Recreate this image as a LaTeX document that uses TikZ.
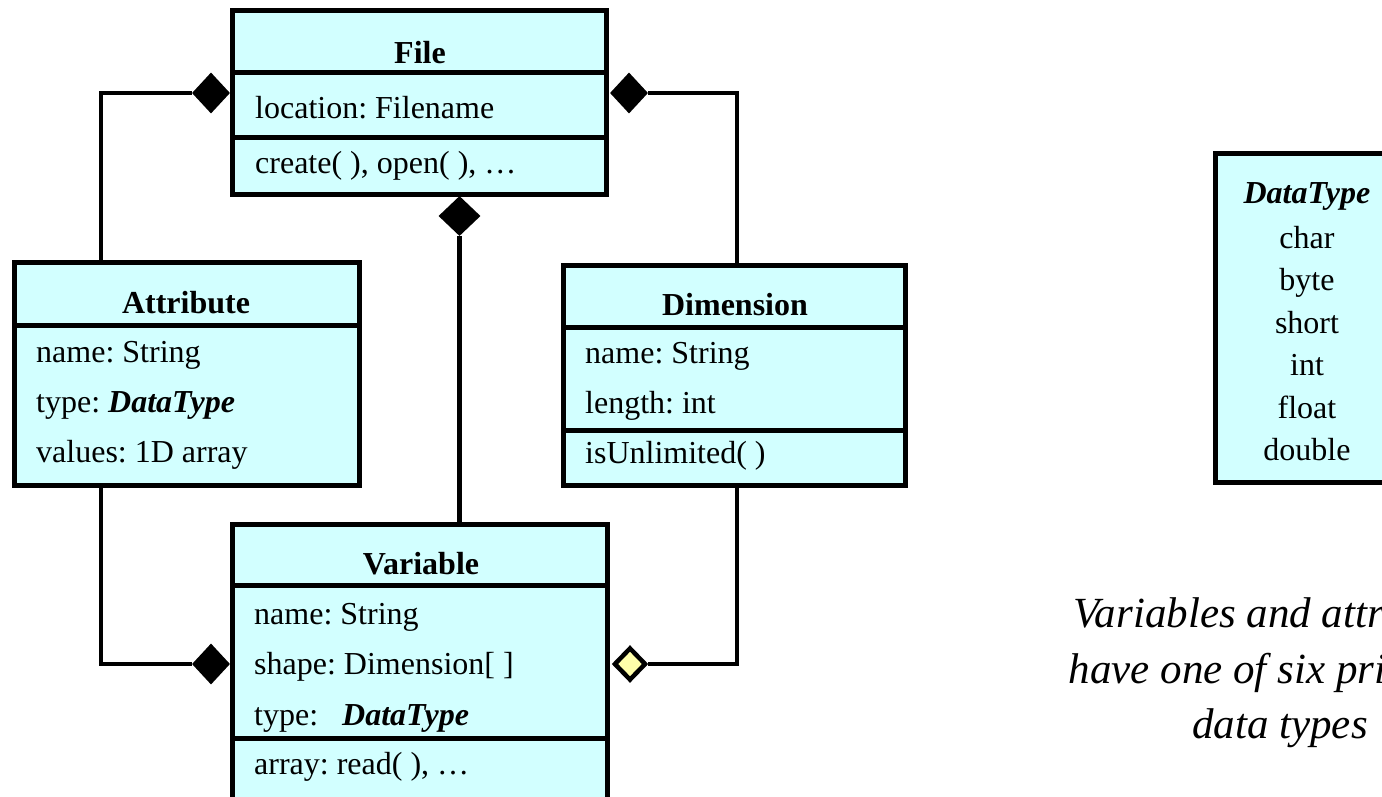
\documentclass[tikz,border=0pt]{standalone}
\usepackage{fontspec}
\setmainfont{Liberation Serif}
\frenchspacing
\usetikzlibrary{shapes.geometric,calc}
\definecolor{clsfill}{RGB}{210,255,255}
\definecolor{aggfill}{RGB}{255,255,170}
\tikzset{
  clsbox/.style={draw=black, fill=clsfill, line width=5pt, inner sep=0pt, rectangle},
  divider/.style={draw=black, line width=5pt},
  conn/.style={draw=black, line width=4.6pt},
  txt/.style={font=\fontsize{32}{38}\selectfont, inner sep=0pt, anchor=base west},
  ttl/.style={font=\fontsize{32}{38}\selectfont\bfseries, inner sep=0pt, anchor=base},
  ctr/.style={font=\fontsize{32}{38}\selectfont, inner sep=0pt, anchor=base},
  captxt/.style={font=\fontsize{43}{56}\selectfont\itshape, inner sep=0pt, anchor=base},
  comp/.style={diamond, fill=black, draw=none, inner sep=0pt, minimum width=38pt, minimum height=41pt},
  aggr/.style={diamond, fill=aggfill, draw=black, line width=4.5pt, inner sep=0pt, minimum width=32pt, minimum height=33pt}
}
\begin{document}
\begin{tikzpicture}[x=1pt,y=-1pt]
\useasboundingbox (0,0) rectangle (1382,796);
\clip (0,0) rectangle (1382,796);

% ---------- File ----------
\node[clsbox, minimum width=374pt, minimum height=184pt] (file) at (419.5,102.5) {};
\draw[divider] (file.west |- 0,72) -- (file.east |- 0,72);
\draw[divider] (file.west |- 0,137.5) -- (file.east |- 0,137.5);
\node[ttl] (fileT) at (420,63) {File};
\node[txt] (fileA) at (255,118) {location: Filename};
\node[txt] (fileM) at (255,173) {create( ), open( ), …};

% ---------- Attribute ----------
\node[clsbox, minimum width=345pt, minimum height=223pt] (attr) at (187,374) {};
\draw[divider] (attr.west |- 0,325) -- (attr.east |- 0,325);
\node[ttl] (attrT) at (186,313) {Attribute};
\node[txt] (attrA1) at (36,362) {name: String};
\node[txt] (attrA2) at (36,412) {type: \textbf{\textit{DataType}}};
\node[txt] (attrA3) at (36,462) {values: 1D array};

% ---------- Dimension ----------
\node[clsbox, minimum width=342pt, minimum height=220pt] (dim) at (734.5,375.5) {};
\draw[divider] (dim.west |- 0,327) -- (dim.east |- 0,327);
\draw[divider] (dim.west |- 0,430) -- (dim.east |- 0,430);
\node[ttl] (dimT) at (735,315) {Dimension};
\node[txt] (dimA1) at (585,363) {name: String};
\node[txt] (dimA2) at (585,413) {length: int};
\node[txt] (dimM) at (585,463) {isUnlimited( )};

% ---------- Variable ----------
\node[clsbox, minimum width=375pt, minimum height=306pt] (var) at (420,677) {};
\draw[divider] (var.west |- 0,585) -- (var.east |- 0,585);
\draw[divider] (var.west |- 0,738) -- (var.east |- 0,738);
\node[ttl] (varT) at (421,574) {Variable};
\node[txt] (varA1) at (254,624) {name: String};
\node[txt] (varA2) at (254,674) {shape: Dimension[ ]};
\node[txt] (varA3) at (254,725) {type:\hspace{24pt}\textbf{\textit{DataType}}};
\node[txt] (varM) at (254,774) {array: read( ), …};

% ---------- DataType ----------
\node[clsbox, minimum width=183pt, minimum height=329pt] (dt) at (1307,318) {};
\node[ctr] (dtT) at (1307,203) {\textbf{\textit{DataType}}};
\node[ctr] (dt1) at (1307,248) {char};
\node[ctr] (dt2) at (1307,290) {byte};
\node[ctr] (dt3) at (1307,333) {short};
\node[ctr] (dt4) at (1307,375) {int};
\node[ctr] (dt5) at (1307,418) {float};
\node[ctr] (dt6) at (1307,460) {double};

% ---------- caption ----------
\node[captxt] (cap1) at (1280,627) {Variables and attributes};
\node[captxt] (cap2) at (1280,683) {have one of six primitive};
\node[captxt] (cap3) at (1280,738) {data types};

% ---------- diamonds ----------
\node[comp] (fdl) at (211,93) {};
\node[comp] (fdr) at (629,93) {};
\node[comp, minimum width=42pt, minimum height=40pt] (fdb) at (459.5,216) {};
\node[comp] (vdl) at (211,664) {};
\node[aggr] (vdr) at (630,664) {};

% ---------- connectors ----------
\draw[conn] (fdl.west) -| ($(attr.north west)+(89,0)$);
\draw[conn] (fdr.east) -| ($(dim.north)+(2.5,0)$);
\draw[conn] (fdb.south) -- (fdb.south |- var.north);
\draw[conn] ($(attr.south west)+(89,0)$) |- (vdl.west);
\draw[conn] ($(dim.south)+(2.5,0)$) |- (vdr.east);
\end{tikzpicture}
\end{document}
